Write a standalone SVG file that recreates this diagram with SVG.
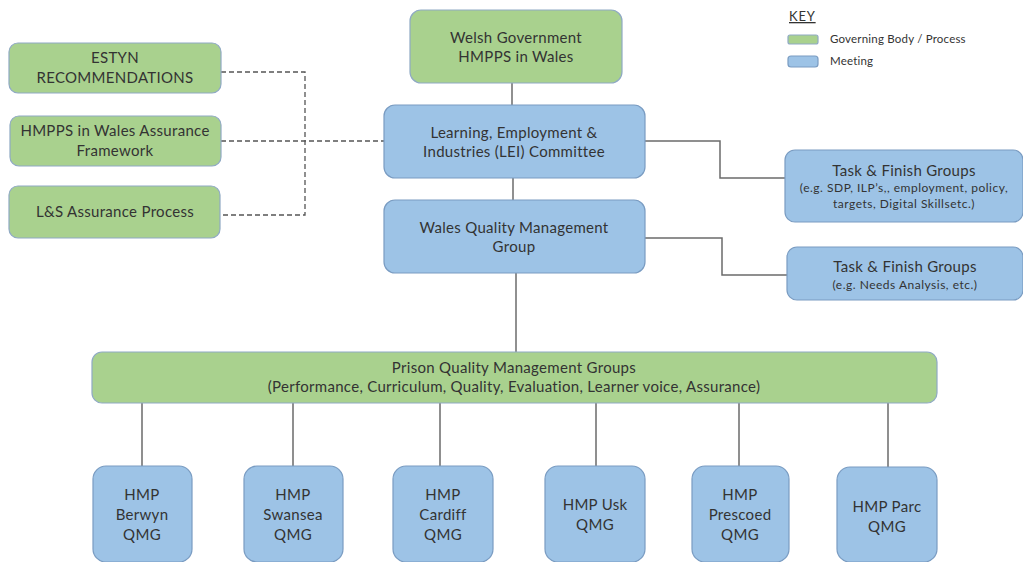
<svg xmlns="http://www.w3.org/2000/svg" width="1023" height="562" viewBox="0 0 1023 562">
<style>
text{font-family:Lato,"Open Sans","Liberation Sans",sans-serif;fill:#333;text-anchor:middle;font-size:15px;letter-spacing:0.3px}
.g{fill:#a9d18e;stroke:#8fa9c4;stroke-width:1.2}
.b{fill:#9dc3e6;stroke:#7a9cc2;stroke-width:1.2}
.s{font-size:12px;letter-spacing:0.5px}
.k{font-size:11.5px;text-anchor:start;letter-spacing:0.2px}
.c{fill:none;stroke:#6b6b6b;stroke-width:1.5}
.d{fill:none;stroke:#555;stroke-width:1.3;stroke-dasharray:5,3}
</style>
<rect width="1023" height="562" fill="#fff"/>
<g id="connectors">
<path class="d" d="M221 72H305V215H220"/>
<path class="d" d="M221 141H385"/>
<path class="c" d="M512 83V105"/>
<path class="c" d="M513 178V200"/>
<path class="c" d="M516 273V352"/>
<path class="c" d="M645 141H720V178H785"/>
<path class="c" d="M645 238H722V275H787"/>
<path class="c" d="M142 403V466M293 403V466M440 403V466M596 403V466M739 403V466M888 403V467"/>
</g>
<g id="key">
<text x="789" y="21" class="k" style="text-decoration:underline;font-size:13px;letter-spacing:0.8px">KEY</text>
<rect class="g" x="788" y="35" width="30" height="9" rx="2"/>
<text x="830" y="43" class="k">Governing Body / Process</text>
<rect class="b" x="788" y="56" width="30" height="11" rx="3"/>
<text x="830" y="65" class="k">Meeting</text>
</g>
<g id="estyn"><rect class="g" x="9" y="43" width="212" height="50" rx="9"/><text x="115" y="63">ESTYN</text><text x="115" y="83">RECOMMENDATIONS</text></g>
<g id="hmpps-assurance"><rect class="g" x="10" y="116" width="211" height="50" rx="9"/><text x="115" y="136">HMPPS in Wales Assurance</text><text x="115" y="156">Framework</text></g>
<g id="ls-assurance"><rect class="g" x="9" y="186" width="211" height="52" rx="9"/><text x="115" y="217">L&amp;S Assurance Process</text></g>
<g id="welsh-gov"><rect class="g" x="410" y="10" width="212" height="73" rx="11"/><text x="516" y="43">Welsh Government</text><text x="516" y="62">HMPPS in Wales</text></g>
<g id="lei"><rect class="b" x="384" y="105" width="261" height="73" rx="11"/><text x="514" y="138">Learning, Employment &amp;</text><text x="514" y="157">Industries (LEI) Committee</text></g>
<g id="wqmg"><rect class="b" x="384" y="200" width="261" height="73" rx="11"/><text x="514" y="233">Wales Quality Management</text><text x="514" y="252">Group</text></g>
<g id="tf1"><rect class="b" x="785" y="150" width="238" height="72" rx="10"/><text x="904" y="176">Task &amp; Finish Groups</text><text x="904" y="192" class="s">(e.g. SDP, ILP’s,, employment,  policy,</text><text x="904" y="208" class="s">targets, Digital Skillsetc.)</text></g>
<g id="tf2"><rect class="b" x="787" y="247" width="236" height="53" rx="10"/><text x="905" y="272">Task &amp; Finish Groups</text><text x="905" y="289" class="s">(e.g. Needs Analysis, etc.)</text></g>
<g id="prison-qmg"><rect class="g" x="92" y="352" width="845" height="51" rx="10"/><text x="514" y="373">Prison Quality Management Groups</text><text x="514" y="392">(Performance, Curriculum, Quality, Evaluation, Learner voice, Assurance)</text></g>
<g id="berwyn"><rect class="b" x="93" y="466" width="99" height="96" rx="13"/><text x="142" y="500">HMP</text><text x="142" y="520">Berwyn</text><text x="142" y="540">QMG</text></g>
<g id="swansea"><rect class="b" x="244" y="466" width="99" height="96" rx="13"/><text x="293" y="500">HMP</text><text x="293" y="520">Swansea</text><text x="293" y="540">QMG</text></g>
<g id="cardiff"><rect class="b" x="393" y="466" width="100" height="96" rx="13"/><text x="443" y="500">HMP</text><text x="443" y="520">Cardiff</text><text x="443" y="540">QMG</text></g>
<g id="usk"><rect class="b" x="545" y="466" width="100" height="96" rx="13"/><text x="595" y="510">HMP Usk</text><text x="595" y="530">QMG</text></g>
<g id="prescoed"><rect class="b" x="692" y="466" width="97" height="96" rx="13"/><text x="740" y="500">HMP</text><text x="740" y="520">Prescoed</text><text x="740" y="540">QMG</text></g>
<g id="parc"><rect class="b" x="837" y="467" width="100" height="95" rx="13"/><text x="887" y="512">HMP Parc</text><text x="887" y="532">QMG</text></g>
</svg>
